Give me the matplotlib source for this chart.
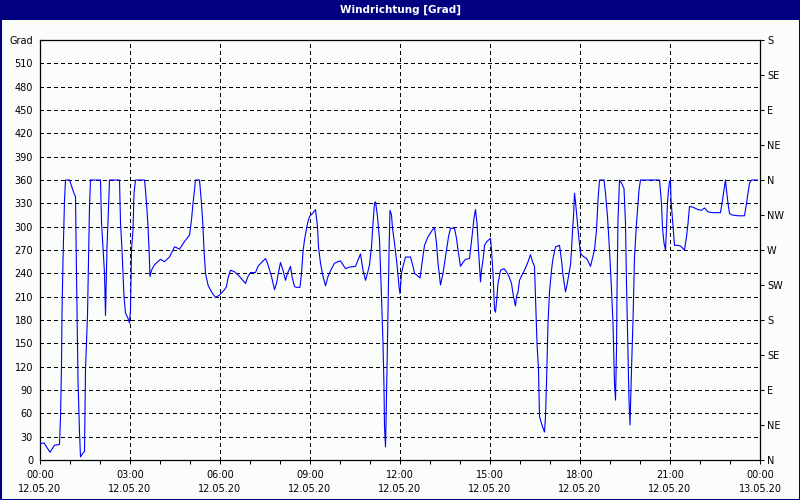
import matplotlib
matplotlib.use("Agg")
import matplotlib.pyplot as plt
from matplotlib.patches import Rectangle
import numpy as np

title = "Windrichtung [Grad]"
minutes = [0, 8, 13, 20, 29, 39, 41, 43, 44, 46, 49, 51, 59, 66, 69, 71, 73, 76, 79, 81, 86, 89, 91, 95, 97, 99, 101,
           121, 123, 126, 129, 131, 134, 136, 139, 159, 161, 164, 168, 171, 176, 179, 181, 183, 186, 188, 191,
           209, 211, 214, 216, 218, 220, 223, 229,
           241, 249, 259, 269, 273, 279, 289, 299, 303, 306, 309, 311, 319, 323, 326, 328, 331, 336, 343, 351, 359,
           369, 373, 376, 381, 389, 399, 411, 416, 421, 431, 436, 443, 451, 455, 463, 469, 473,
           476, 481, 486, 491, 495, 501, 504, 509, 513, 520, 523, 526, 529, 535, 539, 545, 551, 555, 557, 561, 566,
           571, 576, 583, 589, 596, 601, 606, 611, 619, 631, 636, 641, 646, 651, 655, 659, 663, 666, 669, 671, 675,
           679, 683, 686, 688, 689, 691, 692, 694, 696, 698, 700, 703, 705, 709, 713, 716,
           718, 720, 723, 726, 731, 741, 746, 749, 755, 760, 764, 769, 776, 783, 789, 793, 796, 801, 806, 813, 817,
           821, 829, 833, 836, 841, 846, 851, 859, 864, 868, 871, 874, 877, 881, 883, 886, 889, 894, 901, 903, 906,
           909, 911, 914, 916, 921, 928, 933, 938, 943, 947, 951, 953, 956,
           959, 964, 969, 975, 981, 985, 989, 991, 994, 997, 999, 1003, 1006, 1009, 1011, 1013, 1016, 1019, 1023,
           1026, 1031, 1039, 1043, 1046, 1051, 1054, 1057, 1061, 1063, 1065, 1067, 1069, 1071, 1075, 1078, 1081,
           1086, 1093, 1096, 1101, 1104, 1109, 1113, 1116, 1119, 1128, 1131, 1135, 1139, 1143, 1146, 1148, 1149,
           1151, 1153, 1154, 1156, 1159, 1163, 1168, 1171, 1173, 1176, 1178, 1180, 1183, 1186, 1189, 1193, 1196,
           1198, 1201, 1239, 1243, 1245, 1248, 1251, 1253, 1255, 1257, 1259, 1261, 1262, 1264, 1266, 1269, 1276,
           1281, 1286, 1289, 1293, 1296, 1299, 1306, 1316, 1323, 1329, 1336, 1346, 1361, 1364, 1368, 1371, 1373,
           1376, 1379, 1384, 1396, 1409, 1413, 1416, 1419, 1423, 1435]
degrees = [21, 22, 17, 10, 19, 20, 54, 122, 189, 257, 334, 360, 360, 347, 341, 339, 240, 103, 36, 4, 9, 11, 116, 186, 257, 326, 360,
           360, 306, 274, 240, 186, 274, 306, 360, 360, 306, 270, 210, 189, 182, 176, 193, 270, 296, 343, 360,
           360, 347, 321, 300, 272, 236, 244, 251,
           258, 255, 261, 274, 273, 271, 281, 289, 309, 330, 347, 360, 360, 330, 300, 270, 240, 225, 216, 209, 212,
           219, 223, 234, 244, 242, 236, 227, 236, 241, 241, 249, 254, 259, 253, 236, 219, 227,
           238, 254, 244, 231, 240, 249, 236, 223, 222, 222, 240, 268, 283, 304, 313, 317, 322, 300, 274, 253, 236,
           224, 236, 246, 253, 255, 256, 251, 246, 248, 249, 257, 265, 244, 231, 240, 251, 274, 304, 330, 332, 313,
           283, 210, 150, 94, 43, 17, 47, 116, 193, 266, 321, 315, 298, 279, 257, 238,
           223, 214, 240, 249, 261, 261, 249, 240, 237, 234, 253, 276, 287, 294, 299, 279, 253, 225, 240, 270, 287,
           298, 298, 285, 270, 249, 254, 258, 259, 287, 311, 322, 304, 270, 229, 244, 257, 276, 281, 285, 270, 240,
           193, 190, 210, 227, 244, 246, 242, 236, 227, 210, 198, 210, 216,
           231, 238, 244, 253, 264, 255, 249, 210, 150, 116, 56, 47, 41, 36, 56, 99, 176, 216, 244,
           259, 274, 276, 257, 238, 216, 225, 236, 251, 270, 294, 313, 343, 332, 304, 283, 266,
           262, 259, 256, 249, 257, 270, 296, 334, 360, 360, 343, 313, 270, 219, 176, 124, 99,
           77, 141, 214, 309, 360, 356, 349, 304, 227, 137, 77, 45, 116, 180, 261, 304, 330,
           347, 360, 360, 330, 298, 279, 270, 298, 332, 347, 358, 360, 334, 317, 300, 276, 276,
           275, 272, 270, 287, 304, 326, 325, 322, 321, 324, 319, 318, 318, 330, 347, 360, 347,
           330, 317, 315, 314, 314, 330, 343, 356, 360, 360]

x_tick_hours = [0, 3, 6, 9, 12, 15, 18, 21, 24]
x_tick_labels = ["00:00\n12.05.20", "03:00\n12.05.20", "06:00\n12.05.20", "09:00\n12.05.20",
                 "12:00\n12.05.20", "15:00\n12.05.20", "18:00\n12.05.20", "21:00\n12.05.20",
                 "00:00\n13.05.20"]
y_ticks = list(range(0, 541, 30))
y_labels = [str(v) for v in range(0, 511, 30)] + ["Grad"]
dir_ticks = list(range(0, 541, 45))
dir_labels = ["N", "NE", "E", "SE", "S", "SW", "W", "NW", "N", "NE", "E", "SE", "S"]

bg = "#FAFDFA"
navy = "#000080"

fig = plt.figure(figsize=(8, 5), dpi=100, facecolor=bg)
ax = fig.add_axes([40 / 800, 40 / 500, 720 / 800, 420 / 500])
ax.set_facecolor(bg)

hours = np.array(minutes) / 60.0
ax.plot(hours, degrees, color="#0000FF", lw=0.8, antialiased=True, zorder=3)

ax.set_xlim(0, 24)
ax.set_ylim(0, 540)
ax.set_axisbelow(True)

ax.set_xticks(x_tick_hours)
ax.set_xticklabels(x_tick_labels, fontsize=7, linespacing=1.5)
ax.set_xticks(np.arange(0, 25, 1), minor=True)
ax.tick_params(axis="x", which="both", length=3, width=0.75, direction="out", pad=4)

ax.set_yticks(y_ticks)
ax.set_yticklabels(y_labels, fontsize=7)
ax.tick_params(axis="y", length=0, pad=5)

ax.grid(True, which="major", color="black", linestyle=(0, (3, 3)), linewidth=0.75, antialiased=False)

for s in ax.spines.values():
    s.set_color("black")
    s.set_linewidth(0.9)

ax2 = ax.twinx()
ax2.set_ylim(0, 540)
ax2.set_yticks(dir_ticks)
ax2.set_yticklabels(dir_labels, fontsize=7)
ax2.tick_params(axis="y", length=3, width=0.75, pad=2)
for s in ax2.spines.values():
    s.set_visible(False)

fig.patches.append(Rectangle((0, 480 / 500), 1, 20 / 500, transform=fig.transFigure,
                             facecolor=navy, edgecolor="none", zorder=0))
fig.text(0.5, 1 - 10 / 500, title, color="white", fontsize=7.5, fontweight="bold",
         ha="center", va="center")
fig.patches.append(Rectangle((0, 0), 1, 1, transform=fig.transFigure, fill=False,
                             edgecolor=navy, linewidth=2.2, zorder=10))

fig.savefig("out.png", dpi=100, facecolor=bg)
